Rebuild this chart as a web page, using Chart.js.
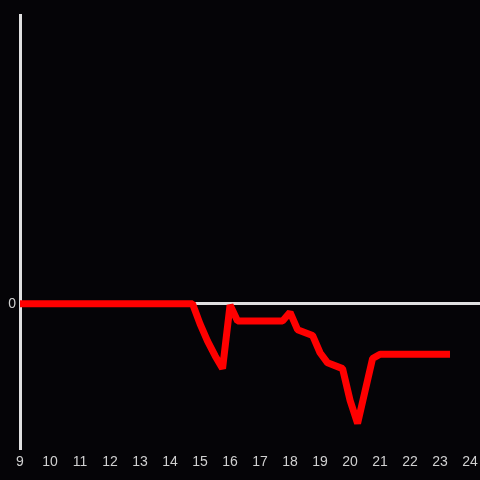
<!DOCTYPE html>
<html>
<head>
<meta charset="utf-8">
<script src="https://cdn.jsdelivr.net/npm/chart.js@4"></script>
<style>
  html, body { margin: 0; padding: 0; background: #050407; }
  #wrap { width: 480px; height: 480px; }
</style>
</head>
<body>
<div id="wrap"><canvas id="chart"></canvas></div>
<script>
// hours of the day and values
const hours = [9, 14.75, 15, 15.25, 15.5, 15.75, 16, 16.25, 17.75, 18, 18.25, 18.75, 19, 19.25, 19.75, 20, 20.25, 20.75, 21, 23.33];
const values = [0, 0, -0.14, -0.26, -0.36, -0.45, -0.01, -0.12, -0.12, -0.06, -0.18, -0.22, -0.34, -0.41, -0.45, -0.67, -0.83, -0.38, -0.35, -0.35];
const yTicks = [0];

const points = hours.map((h, i) => ({ x: h, y: values[i] }));

const ctx = document.querySelector("#chart");

const myChart = new Chart(ctx, {
  type: "scatter",
  data: {
    datasets: [
      {
        data: points,
        showLine: true,
        borderColor: "#ff0000",
        backgroundColor: "#ff0000",
        borderWidth: 7,
        borderJoinStyle: "bevel",
        pointRadius: 0,
        clip: false,
      },
    ],
  },
  options: {
    responsive: true,
    maintainAspectRatio: false,
    animation: false,
    layout: { padding: { top: 15, right: 0, left: 0, bottom: 0 } },
    plugins: { legend: { display: false }, tooltip: { enabled: false } },
    scales: {
      x: {
        type: "linear",
        min: 9,
        max: 24.33,
        grid: { display: false, drawTicks: false },
        border: { display: false },
        ticks: {
          stepSize: 1,
          includeBounds: false,
          color: "#d0d0d0",
          font: { size: 14 },
          padding: 6,
          maxRotation: 0,
          autoSkip: false,
        },
        afterFit: s => { s.height = 32; s.paddingRight = 0; s.paddingLeft = 0; },
      },
      y: {
        min: -1,
        max: 2,
        afterBuildTicks: s => { s.ticks = yTicks.map(v => ({ value: v })); },
        grid: {
          color: "#e0e0e0",
          lineWidth: 3,
          drawTicks: false,
        },
        border: { display: true, color: "#e0e0e0", width: 3 },
        ticks: {
          color: "#d0d0d0",
          font: { size: 14 },
          padding: 4,
        },
        afterFit: s => { s.width = 20; s.paddingTop = 0; s.paddingBottom = 0; },
      },
    },
  },
  plugins: [{
    id: "bg",
    beforeDraw: c => {
      const g = c.ctx;
      g.save();
      g.fillStyle = "#050407";
      g.fillRect(0, 0, c.width, c.height);
      g.restore();
    },
  }],
});
</script>
</body>
</html>
